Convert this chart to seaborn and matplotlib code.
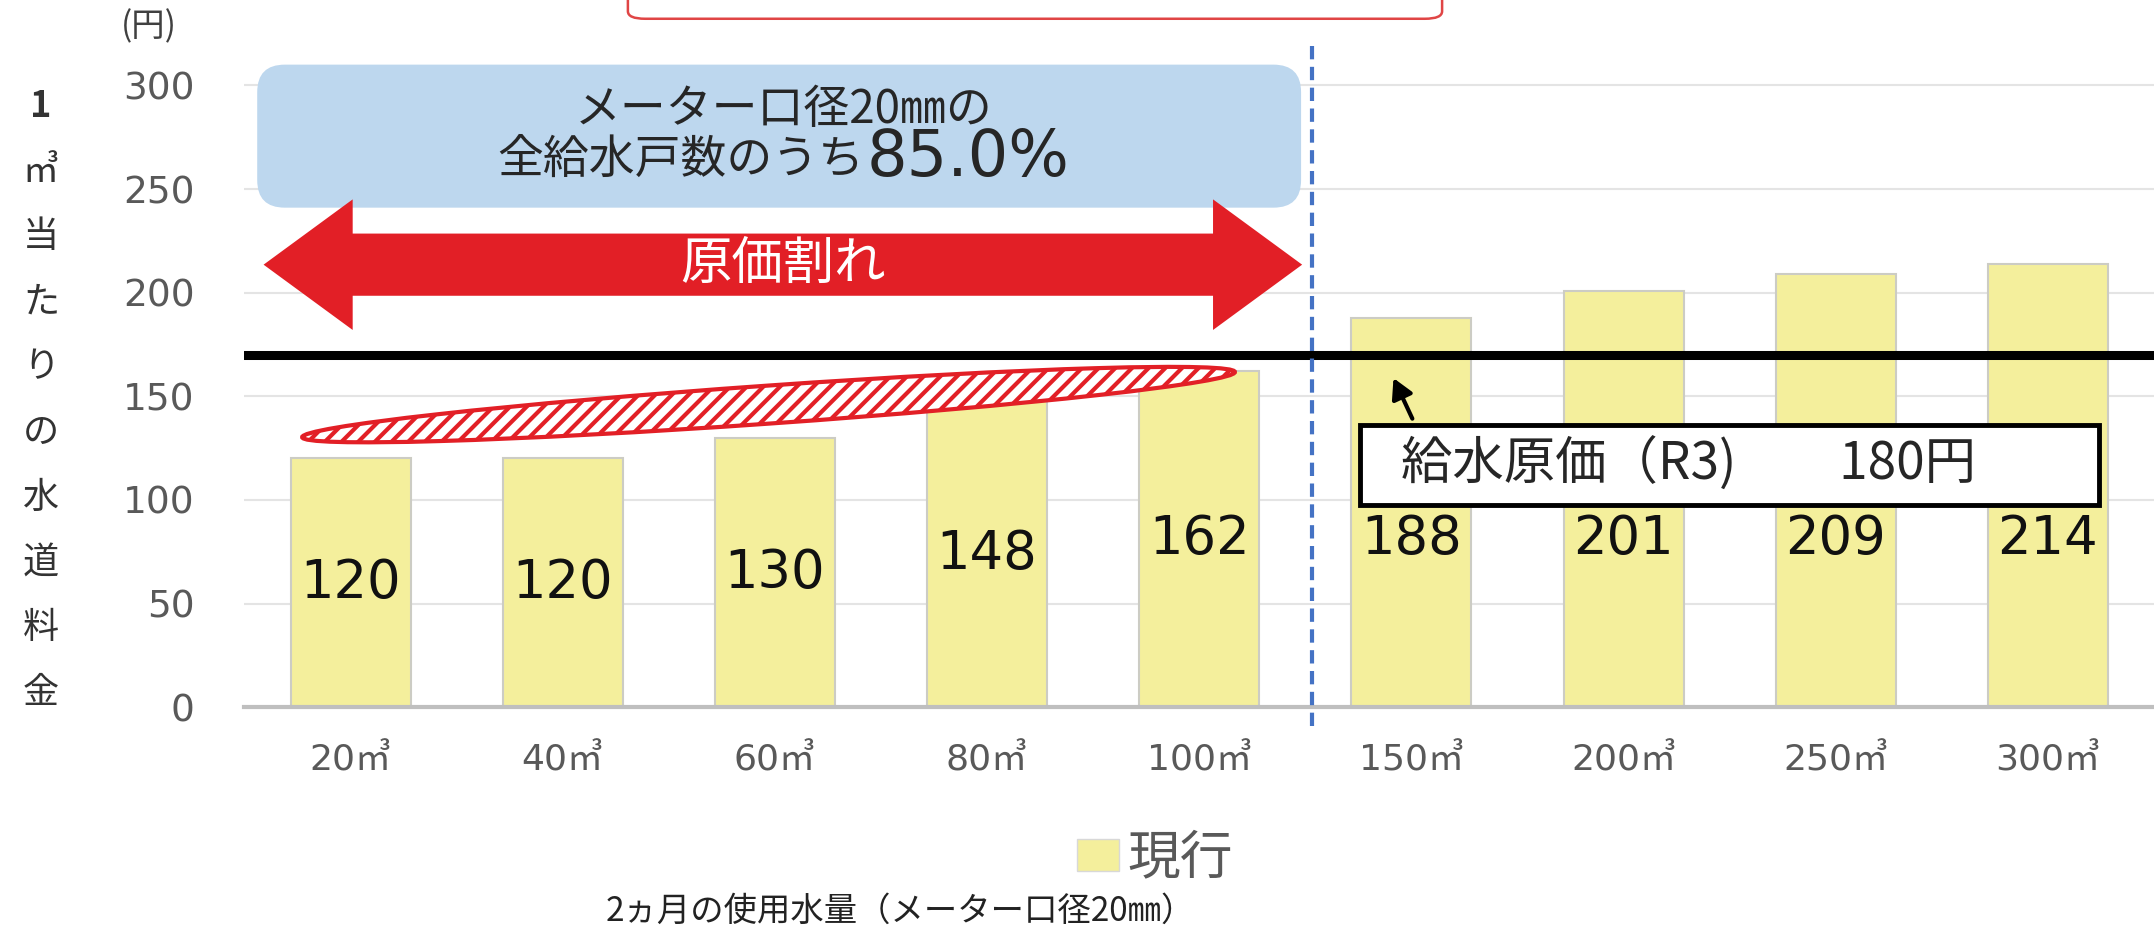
import numpy as np
import pandas as pd
import matplotlib
matplotlib.use("Agg")
import matplotlib.pyplot as plt
import seaborn as sns
from matplotlib.patches import FancyBboxPatch, Ellipse, Polygon, Rectangle
from matplotlib.transforms import Affine2D

# ---------------- data ----------------
categories = ["20㎥", "40㎥", "60㎥", "80㎥", "100㎥", "150㎥", "200㎥", "250㎥", "300㎥"]
values = [120, 120, 130, 148, 162, 188, 201, 209, 214]
series_name = "現行"
cost_line_value = 170
cost_label = "給水原価（R3)　　180円"
yticks = [0, 50, 100, 150, 200, 250, 300]
ylabel_chars = ["1", "㎥", "当", "た", "り", "の", "水", "道", "料", "金"]
xlabel_text = "2ヵ月の使用水量（メーター口径20㎜）"
box_line1 = "メーター口径20㎜の"
box_line2a = "全給水戸数のうち"
box_line2b = "85.0%"
arrow_text = "原価割れ"
unit_text = "(円)"

# ---------------- style ----------------
sns.set_theme(style="white")
plt.rcParams['font.family'] = ['Noto Sans CJK JP', 'DejaVu Sans']
plt.rcParams['hatch.linewidth'] = 3.0
NUM_FONT = ['DejaVu Sans', 'Noto Sans CJK JP']

BAR_COLOR = "#F4EF9C"
BAR_EDGE = "#CCCCC4"
TICK_COLOR = "#595959"

fig = plt.figure(figsize=(21.54, 9.38), dpi=100)
ax_bottom = 0.246
unit_h = (0.909 - 0.246) / 300.0
ymax = 325
ax = fig.add_axes([0.1135, ax_bottom, 0.8865, unit_h * ymax])

df = pd.DataFrame({"usage": categories, "price": values})
sns.barplot(data=df, x="usage", y="price", color=BAR_COLOR, width=0.565,
            edgecolor=BAR_EDGE, linewidth=1.5, saturation=1, ax=ax, zorder=2)
for p in ax.patches:
    p.set_facecolor(BAR_COLOR)

ax.set_xlim(-0.5, len(categories) - 0.5)
ax.set_ylim(0, ymax)
ax.set_yticks(yticks)
ax.set_yticklabels([str(t) for t in yticks], family=NUM_FONT, fontsize=27, color=TICK_COLOR)
ax.set_xticks(range(len(categories)))
ax.set_xticklabels(categories, family=NUM_FONT, fontsize=26, color=TICK_COLOR)
ax.tick_params(axis='y', length=0, pad=36)
ax.tick_params(axis='x', length=0, pad=26)
ax.set_xlabel("")
ax.set_ylabel("")
ax.yaxis.grid(True, color="#E4E4E4", linewidth=1.5)
ax.set_axisbelow(True)
for s in ["top", "right", "left"]:
    ax.spines[s].set_visible(False)
ax.spines["bottom"].set_color("#BFBFBF")
ax.spines["bottom"].set_linewidth(3)
ax.spines["bottom"].set_zorder(3)

# bar value labels
for i, v in enumerate(values):
    ax.text(i, min(v / 2.0, 81), str(v), ha="center", va="center",
            family=NUM_FONT, fontsize=38, color="#111111", zorder=5)

# cost line
ax.axhline(cost_line_value, color="black", linewidth=6.5, zorder=4)

# dashed separator
ax.plot([4.53, 4.53], [-9, 322], color="#4472C4", linewidth=3,
        linestyle=(0, (3.2, 1.8)), clip_on=False, zorder=4)

# blue rounded box
x_per_px = 1.0 / 212.0
y_per_px = 1.0 / 2.074
asp = y_per_px / x_per_px
blue = FancyBboxPatch((-0.44, 241), 4.92, 69,
                      boxstyle="round,pad=0,rounding_size=0.13",
                      mutation_aspect=asp, facecolor="#BDD7EE", edgecolor="none",
                      clip_on=False, zorder=3)
ax.add_patch(blue)
ax.text(2.04, 288, box_line1, ha="center", va="center", fontsize=33, color="#262626", zorder=5)
ax.text(2.42, 264, box_line2a, ha="right", va="center", fontsize=33, color="#262626", zorder=5)
ax.text(2.43, 265, box_line2b, ha="left", va="center", fontsize=46, color="#262626",
        family=['DejaVu Sans'], zorder=5)

# red double arrow
x0, x1, yc = -0.41, 4.485, 213.5
sh, hh, hl = 15, 31.5, 0.42
pts = [(x0, yc), (x0 + hl, yc + hh), (x0 + hl, yc + sh), (x1 - hl, yc + sh),
       (x1 - hl, yc + hh), (x1, yc), (x1 - hl, yc - hh), (x1 - hl, yc - sh),
       (x0 + hl, yc - sh), (x0 + hl, yc - hh)]
ax.add_patch(Polygon(pts, closed=True, facecolor="#E21F26", edgecolor="none",
                     clip_on=False, zorder=3))
ax.text(2.04, yc, arrow_text, ha="center", va="center", fontsize=37, color="white", zorder=5)

# cost label box
box = Rectangle((4.76, 97.5), 3.48, 38.5, facecolor="white", edgecolor="black",
                linewidth=3.5, zorder=5)
ax.add_patch(box)
ax.text(4.95, 117, cost_label, ha="left", va="center", fontsize=37, color="#262626", zorder=6)
ax.annotate("", xy=(4.91, 160), xytext=(5.01, 138),
            arrowprops=dict(arrowstyle="-|>,head_length=1.0,head_width=0.55",
                            color="black", lw=3), zorder=6)

# hatched ellipse (drawn in pixel space)
fig.canvas.draw()
cx, cy = ax.transData.transform((1.97, 146))
ell = Ellipse((0, 0), 935, 38, angle=4.0, facecolor="white", edgecolor="#E21F26",
              linewidth=3, hatch="//", transform=Affine2D().translate(cx, cy),
              zorder=6)
fig.add_artist(ell)

# top red box remnant
fig.add_artist(FancyBboxPatch((0.2915, 0.980), 0.378, 0.06,
                              boxstyle="round,pad=0,rounding_size=0.008",
                              transform=fig.transFigure, facecolor="white",
                              edgecolor="#E04545", linewidth=1.8, clip_on=False))

# unit
fig.text(0.069, 0.971, unit_text, ha="center", va="center", fontsize=24, color="#404040")

# vertical y label
ys = np.linspace(0.886, 0.261, len(ylabel_chars))
for ch, yy in zip(ylabel_chars, ys):
    fig.text(0.019, yy, ch, ha="center", va="center", fontsize=26,
             color="#333333", fontweight="bold" if ch == "1" else "normal")

# legend
handle = Rectangle((0, 0), 1, 1, facecolor=BAR_COLOR, edgecolor="#D8D8D8")
leg = fig.legend([handle], [series_name], loc="center", bbox_to_anchor=(0.536, 0.085),
                 frameon=False, fontsize=38, handlelength=0.8, handleheight=0.55,
                 handletextpad=0.15, labelcolor=TICK_COLOR)

# x label
fig.text(0.418, 0.029, xlabel_text, ha="center", va="center", fontsize=24, color="#222222")

fig.savefig("out.png", dpi=100)
